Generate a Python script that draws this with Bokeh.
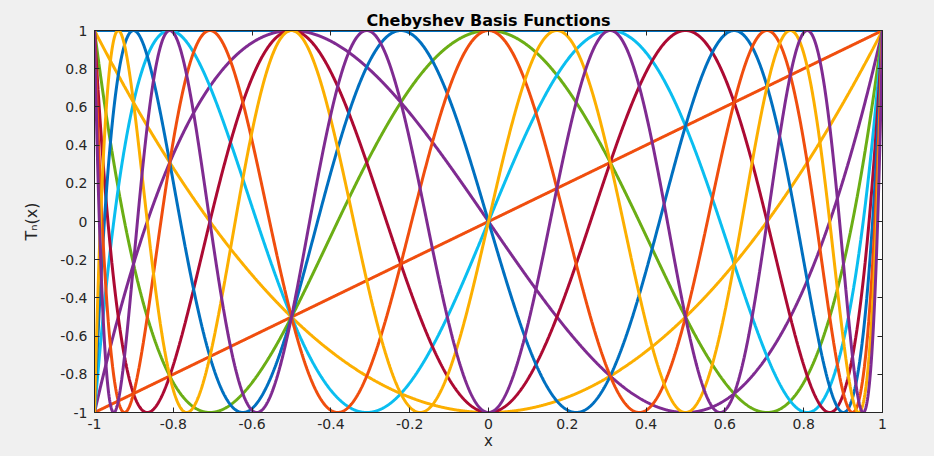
import numpy as np
from numpy.polynomial import chebyshev as cheb
from bokeh.plotting import figure
from bokeh.models import Range1d, FixedTicker, LinearAxis
from bokeh.embed import file_html
from bokeh.resources import INLINE

# ---- data -----------------------------------------------------------
degrees = [0, 1, 2, 3, 4, 5, 6, 7, 8, 9, 10]
colors = ["#0070C0", "#F04E0E", "#FCAF00", "#7F2B91", "#6BAE15", "#0ABEF0",
          "#AC0A33", "#0070C0", "#F04E0E", "#FCAF00", "#7F2B91"]
x_ticks = [-1, -0.8, -0.6, -0.4, -0.2, 0, 0.2, 0.4, 0.6, 0.8, 1]
x_tick_labels = ["-1", "-0.8", "-0.6", "-0.4", "-0.2", "0", "0.2", "0.4", "0.6", "0.8", "1"]
y_ticks = [-1, -0.8, -0.6, -0.4, -0.2, 0, 0.2, 0.4, 0.6, 0.8, 1]
y_tick_labels = ["-1", "-0.8", "-0.6", "-0.4", "-0.2", "0", "0.2", "0.4", "0.6", "0.8", "1"]
x_grid = np.linspace(-1, 1, 2001)

FONT = "DejaVu Sans"
AX = "#262626"

W, H = 930, 452
p = figure(width=W, height=H, output_backend="svg", toolbar_location=None,
           x_range=Range1d(-1, 1), y_range=Range1d(-1, 1),
           min_border_left=94, min_border_right=W - 882, min_border_top=30,
           min_border_bottom=H - 413,
           background_fill_color="white", border_fill_color="#f0f0f0",
           title="Chebyshev Basis Functions")

p.title.align = "center"
p.title.text_font = FONT
p.title.text_font_size = "16px"
p.title.text_font_style = "bold"
p.title.text_color = "black"
p.title.standoff = 2
p.title.offset = 0

p.grid.visible = False
p.outline_line_color = AX
p.outline_line_width = 1

for n, c in zip(degrees, colors):
    coef = [0] * n + [1]
    y = cheb.chebval(x_grid, coef)
    p.line(x_grid, y, line_color=c, line_width=3)

def style_axis(ax, ticks, labels, show_labels=True):
    ax.ticker = FixedTicker(ticks=ticks)
    ax.major_label_overrides = {t: l for t, l in zip(ticks, labels)}
    ax.major_tick_in = 5
    ax.major_tick_out = 0
    ax.minor_tick_line_color = None
    ax.major_tick_line_color = AX
    ax.axis_line_color = AX
    ax.major_label_text_font = FONT
    ax.major_label_text_font_size = "14px" if show_labels else "1px"
    ax.major_label_text_color = AX if show_labels else None
    ax.axis_label_text_font = FONT
    ax.axis_label_text_font_size = "15px"
    ax.axis_label_text_font_style = "normal"
    ax.axis_label_text_color = AX

style_axis(p.xaxis[0], x_ticks, x_tick_labels)
style_axis(p.yaxis[0], y_ticks, y_tick_labels)
p.xaxis[0].axis_label = "x"
p.xaxis[0].major_label_standoff = 6
p.xaxis[0].axis_label_standoff = 0
p.yaxis[0].axis_label = "Tₙ(x)"
p.yaxis[0].axis_label_text_font_size = "16px"
p.yaxis[0].major_label_standoff = 7
p.yaxis[0].axis_label_standoff = 16

right = LinearAxis()
style_axis(right, y_ticks, y_tick_labels, show_labels=False)
right.major_label_standoff = 0
p.add_layout(right, "right")

top = LinearAxis()
style_axis(top, x_ticks, x_tick_labels, show_labels=False)
top.major_label_standoff = 0
p.add_layout(top, "above")

html = file_html(p, INLINE)
html = html.replace("</head>", "<style>html,body{background:#f0f0f0;}</style></head>", 1)
open("out.html", "w").write(html)
